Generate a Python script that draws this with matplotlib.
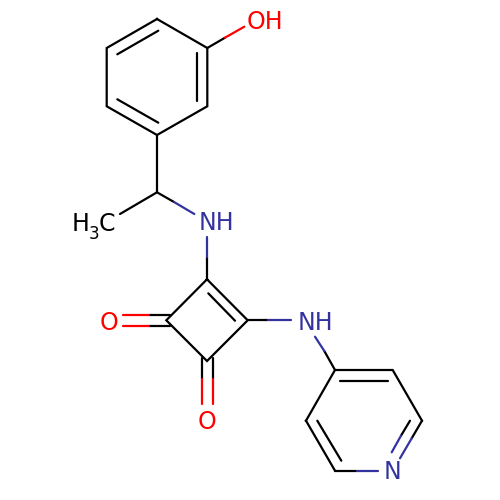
import matplotlib
matplotlib.use("Agg")
import matplotlib.pyplot as plt

BLACK, RED, BLUE = "#000000", "#FF0000", "#33339F"

# atom positions
benzene_x = [157, 207.3, 207.3, 157, 106.7, 106.7, 157]
benzene_y = [19, 48, 106.3, 135, 106.3, 48, 19]
benzene_inner = [((117.3, 54.3), (158.3, 30.7)), ((197, 53.3), (197, 100.7)), ((117.3, 99.3), (158.3, 122.7))]
square_x = [207, 247.7, 207, 166.3, 207]
square_y = [279.3, 320.3, 361, 320.3, 279.3]
square_inner = [((208.3, 293.3), (235, 320.7))]
pyridine_x = [306, 335, 392.7, 422]
pyridine_y = [420.7, 370, 370, 420.7]
pyridine_lower_x = [306, 335]
pyridine_lower_y = [420.7, 470.7]
pyridine_inner = [((340, 381), (387.7, 381)), ((317.3, 420.7), (341.3, 460.7))]
black_bonds = [((157, 135), (157, 192.3)), ((157, 192.3), (120, 214))]

# bonds with two colours: (start, middle, end, start colour, end colour)
split_bonds = [
    ((207.3, 48), (225, 37.7), (244.3, 26.7), BLACK, RED),
    ((157, 192.3), (174, 202), (194.3, 214), BLACK, BLUE),
    ((207, 279.3), (207, 257), (207, 236.7), BLACK, BLUE),
    ((247.7, 320.3), (268.3, 320.3), (291.3, 320.3), BLACK, BLUE),
    ((335, 370), (324.3, 351), (315, 336.7), BLACK, BLUE),
    ((170, 315.3), (149, 315.3), (123.3, 315.3), BLACK, RED),
    ((170, 325.7), (149, 325.7), (123.3, 325.7), BLACK, RED),
    ((202, 358), (202, 379.3), (202, 404.3), BLACK, RED),
    ((212.7, 358), (212.7, 379.3), (212.7, 404.3), BLACK, RED),
    ((422, 420.7), (411.7, 438.3), (400, 458.3), BLACK, BLUE),
    ((410, 420.7), (401, 435.7), (391.7, 452.3), BLACK, BLUE),
    ((335, 470.7), (356.7, 470.7), (378.3, 470.7), BLACK, BLUE),
]

# atom labels: text, x, y, colour, font size
labels = [
    ("OH", 265, 19.5, RED, 17),
    ("NH", 216, 221, BLUE, 17),
    ("NH", 315, 320, BLUE, 17),
    ("O", 108.7, 320, RED, 17),
    ("O", 206.7, 419.5, RED, 17),
    ("N", 392.7, 469.5, BLUE, 17),
    ("H", 80.5, 221.5, BLACK, 17),
    ("3", 93.5, 232, BLACK, 12),
    ("C", 106.5, 221.5, BLACK, 17),
]

LW = 1.6
fig = plt.figure(figsize=(5, 5), dpi=100)
ax = fig.add_axes([0, 0, 1, 1])
ax.set_xlim(0, 500)
ax.set_ylim(500, 0)
ax.axis("off")

def seg(p, q, c):
    ax.plot([p[0], q[0]], [p[1], q[1]], color=c, lw=LW, solid_capstyle="round", solid_joinstyle="miter")

ax.plot(benzene_x, benzene_y, color=BLACK, lw=LW, solid_joinstyle="miter")
ax.plot(square_x, square_y, color=BLACK, lw=LW, solid_joinstyle="miter")
ax.plot(pyridine_x, pyridine_y, color=BLACK, lw=LW, solid_joinstyle="miter")
ax.plot(pyridine_lower_x, pyridine_lower_y, color=BLACK, lw=LW, solid_joinstyle="miter")
for p, q in benzene_inner + square_inner + pyridine_inner + black_bonds:
    seg(p, q, BLACK)
for a, m, b, c1, c2 in split_bonds:
    seg(a, m, c1)
    seg(m, b, c2)
for t, x, y, c, s in labels:
    ax.text(x, y, t, color=c, fontsize=s, ha="center", va="center_baseline", family="DejaVu Sans")

fig.savefig("out.png", dpi=100)
